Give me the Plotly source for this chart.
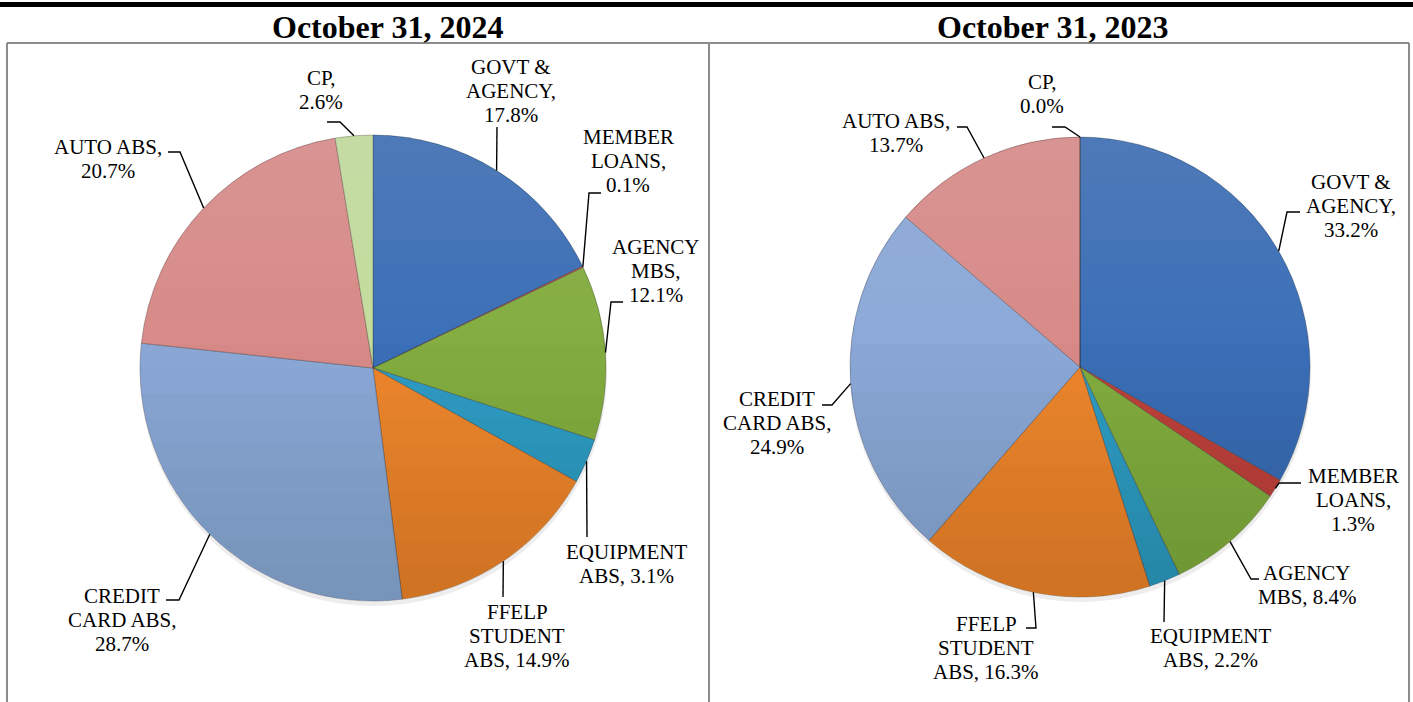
import math
import plotly.graph_objects as go

# ---------------- data ----------------
categories = ["GOVT & AGENCY", "MEMBER LOANS", "AGENCY MBS", "EQUIPMENT ABS",
              "FFELP STUDENT ABS", "CREDIT CARD ABS", "AUTO ABS", "CP"]
values_2024 = [17.8, 0.1, 12.1, 3.1, 14.9, 28.7, 20.7, 2.6]
values_2023 = [33.2, 1.3, 8.4, 2.2, 16.3, 24.9, 13.7, 0.0]
panel_titles = ["October 31, 2024", "October 31, 2023"]

# how each data label is wrapped ({v} = value)
wrap_2024 = [["GOVT &", "AGENCY,", "{v}%"], ["MEMBER", "LOANS,", "{v}%"],
             ["AGENCY", "MBS,", "{v}%"], ["EQUIPMENT", "ABS, {v}%"],
             ["FFELP", "STUDENT", "ABS, {v}%"], ["CREDIT", "CARD ABS,", "{v}%"],
             ["AUTO ABS,", "{v}%"], ["CP,", "{v}%"]]
wrap_2023 = [["GOVT &", "AGENCY,", "{v}%"], ["MEMBER", "LOANS,", "{v}%"],
             ["AGENCY", "MBS, {v}%"], ["EQUIPMENT", "ABS, {v}%"],
             ["FFELP", "STUDENT", "ABS, {v}%"], ["CREDIT", "CARD ABS,", "{v}%"],
             ["AUTO ABS,", "{v}%"], ["CP,", "{v}%"]]

# ---------------- style / layout ----------------
colors = ["#3A6FB8", "#C0423B", "#83AE3F", "#2F9CC5",
          "#EE872D", "#8BA8D8", "#D88A88", "#C4DC9A"]
W, H = 1413, 702
FONT = "Liberation Serif, Times New Roman, serif"
LABEL_SIZE = 21
LINE_GAP = 24

pies = [
    dict(values=values_2024, wrap=wrap_2024, cx=373, cy=368, r=233,
         title_xy=(387, 27),
         # label centre x, first text line y, leader-line knees (px)
         labels=[(511, 67, [(497, 127)]),
                 (628, 137, [(589, 193), (601, 193)]),
                 (656, 247, [(611, 302), (623, 302)]),
                 (626, 552, [(587, 537)]),
                 (517, 612, [(503, 597)]),
                 (122, 596, [(179, 600), (166, 600)]),
                 (108, 147, [(180, 152), (168, 152)]),
                 (321, 78, [(340, 122), (327, 122)])]),
    dict(values=values_2023, wrap=wrap_2023, cx=1080, cy=367, r=230,
         title_xy=(1052, 27),
         labels=[(1351, 182, [(1287, 212), (1300, 212)]),
                 (1353, 476, [(1279, 483), (1301, 483)]),
                 (1307, 573, [(1251, 579), (1259, 579)]),
                 (1210, 636, [(1164, 622)]),
                 (986, 624, [(1036, 628), (1026, 628)]),
                 (777, 399, [(832, 405), (822, 405)]),
                 (896, 121, [(967, 127), (957, 127)]),
                 (1042, 82, [(1065, 127), (1052, 127)])]),
]


def px(x, y):
    return x / W, 1 - y / H


def segment_path(cx, cy, r, yl, below=True, n=72):
    """Closed polygon for the part of the circle below (or above) pixel row yl."""
    s = max(-1.0, min(1.0, (yl - cy) / r))
    t0 = math.asin(s)
    if below:
        a, b = t0, math.pi - t0
    else:
        a, b = math.pi - t0, 2 * math.pi + t0
    pts = []
    for i in range(n + 1):
        t = a + (b - a) * i / n
        pts.append(px(cx + r * math.cos(t), cy + r * math.sin(t)))
    return "M " + " L ".join("%.5f %.5f" % q for q in pts) + " Z"


fig = go.Figure()
shapes = []
annotations = []

for p in pies:
    cx, cy, r = p["cx"], p["cy"], p["r"]
    # soft shadow under the pie
    sx0, sy1 = px(cx - r, cy - r + 4)
    sx1, sy0 = px(cx + r + 1, cy + r + 5)
    fig.add_trace(go.Pie(values=[1], marker=dict(colors=["rgba(0,0,0,0.07)"]),
                         textinfo="none", hoverinfo="skip", sort=False,
                         domain=dict(x=[sx0, sx1], y=[sy0, sy1]), showlegend=False))
    x0, y1 = px(cx - r, cy - r)
    x1, y0 = px(cx + r, cy + r)
    fig.add_trace(go.Pie(
        labels=categories, values=p["values"], sort=False, direction="clockwise",
        rotation=0, textinfo="none", showlegend=False,
        marker=dict(colors=colors, line=dict(color="rgba(40,40,40,0.30)", width=1)),
        domain=dict(x=[x0, x1], y=[y0, y1])))

    # vertical light-to-dark shading (Excel-like gradient)
    nb = 10
    for k in range(nb):
        yl = cy - 0.1 * r + (1.05 * r) * k / nb
        shapes.append(dict(type="path", path=segment_path(cx, cy, r - 0.5, yl, True),
                           xref="paper", yref="paper", fillcolor="rgba(0,0,0,0.012)",
                           line=dict(width=0)))
    for k in range(nb):
        yl = cy - 0.1 * r - (0.9 * r) * k / nb
        shapes.append(dict(type="path", path=segment_path(cx, cy, r - 0.5, yl, False),
                           xref="paper", yref="paper", fillcolor="rgba(255,255,255,0.012)",
                           line=dict(width=0)))

    total = sum(p["values"])
    cum = 0.0
    for val, wrap, (lx, ly, knees) in zip(p["values"], p["wrap"], p["labels"]):
        mid = (cum + val / 2) / total
        cum += val
        ang = 2 * math.pi * mid
        ex, ey = cx + r * math.sin(ang), cy - r * math.cos(ang)
        pts = [(ex, ey)] + list(knees)
        path = "M " + " L ".join("%.5f %.5f" % px(a, b) for a, b in pts)
        shapes.append(dict(type="path", path=path, xref="paper", yref="paper",
                           line=dict(color="black", width=1.4)))
        for i, t in enumerate(wrap):
            tx, ty = px(lx, ly + i * LINE_GAP)
            annotations.append(dict(text=t.format(v="%.1f" % val), x=tx, y=ty,
                                    xref="paper", yref="paper", showarrow=False,
                                    xanchor="center", yanchor="middle",
                                    font=dict(family=FONT, size=LABEL_SIZE, color="black")))

for p, title in zip(pies, panel_titles):
    tx, ty = px(*p["title_xy"])
    annotations.append(dict(text="<b>%s</b>" % title, x=tx, y=ty, xref="paper", yref="paper",
                            showarrow=False, xanchor="center", yanchor="middle",
                            font=dict(family=FONT, size=32, color="black")))

# thick rule on top and the grey table frame
a0, b0 = px(0, 2)
a1, b1 = px(W, 7)
shapes.append(dict(type="rect", xref="paper", yref="paper", x0=a0, x1=a1, y0=b1, y1=b0,
                   fillcolor="black", line=dict(width=0)))
grey = dict(color="#8C8C8C", width=2)
for (xa, ya, xb, yb) in [(7, 43, 1409, 43), (7, 43, 7, 702), (709, 43, 709, 702),
                         (1409, 43, 1409, 702)]:
    pa, qa = px(xa, ya)
    pb, qb = px(xb, yb)
    shapes.append(dict(type="line", xref="paper", yref="paper", x0=pa, y0=qa,
                       x1=pb, y1=qb, line=grey))

fig.update_layout(width=W, height=H, margin=dict(l=0, r=0, t=0, b=0),
                  paper_bgcolor="white", plot_bgcolor="white",
                  shapes=shapes, annotations=annotations, showlegend=False)
fig.write_html("out.html", config={"displayModeBar": False},
               post_script="document.body.style.margin='0';document.body.style.overflow='hidden';")
